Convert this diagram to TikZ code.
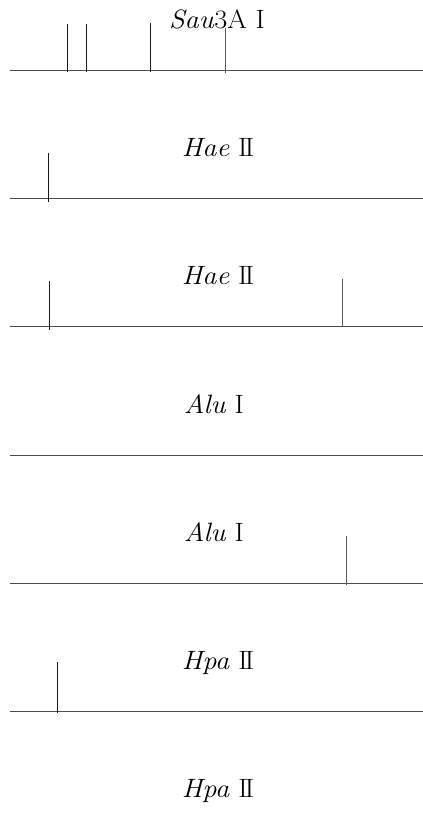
\documentclass[tikz,border=0pt]{standalone}
\usepackage{fontspec}
\setmainfont{Latin Modern Roman}[FakeStretch=1.07]
\newcommand{\rII}{I\kern-0.1em I}
\tikzset{
  dna/.style={draw=black!70, line width=1pt},
  site/.style={draw=black!90, line width=0.9pt},
  enz/.style={anchor=base, inner sep=0pt, font=\fontsize{26.5}{30}\selectfont}
}
\begin{document}
\begin{tikzpicture}[x=1pt,y=-1pt]
\useasboundingbox (0,0) rectangle (423,838);
% labels
\node[enz] (l1) at (217,28.5) {\textit{Sau}3A I};
\node[enz] (l2) at (218,156.5) {\textit{Hae} \rII};
\node[enz] (l3) at (218,284.5) {\textit{Hae} \rII};
\node[enz] (l4) at (214,413.5) {\textit{Alu} I};
\node[enz] (l5) at (214,541.5) {\textit{Alu} I};
\node[enz] (l6) at (218,669.5) {\textit{Hpa} \rII};
\node[enz] (l7) at (218,797.5) {\textit{Hpa} \rII};
% DNA lines
\foreach \y/\n in {70/a,198/b,326/c,455/d,583/e,711/f}{
  \coordinate (\n L) at (10,\y);
  \coordinate (\n R) at (423,\y);
  \draw[dna] (\n L) -- (\n R);
}
% cut sites
\draw[site] (67,24) -- (67,72);
\draw[site] (86,24) -- (86,72);
\draw[site] (150,23) -- (150,72);
\draw[site,draw=black!65] (225,28) -- (225,73);
\draw[site] (48,153) -- (48,202);
\draw[site] (49,281) -- (49,330);
\draw[site,draw=black!65] (342,279) -- (342,326);
\draw[site,draw=black!65] (346,536) -- (346,585);
\draw[site] (57,662) -- (57,713);
\end{tikzpicture}
\end{document}
